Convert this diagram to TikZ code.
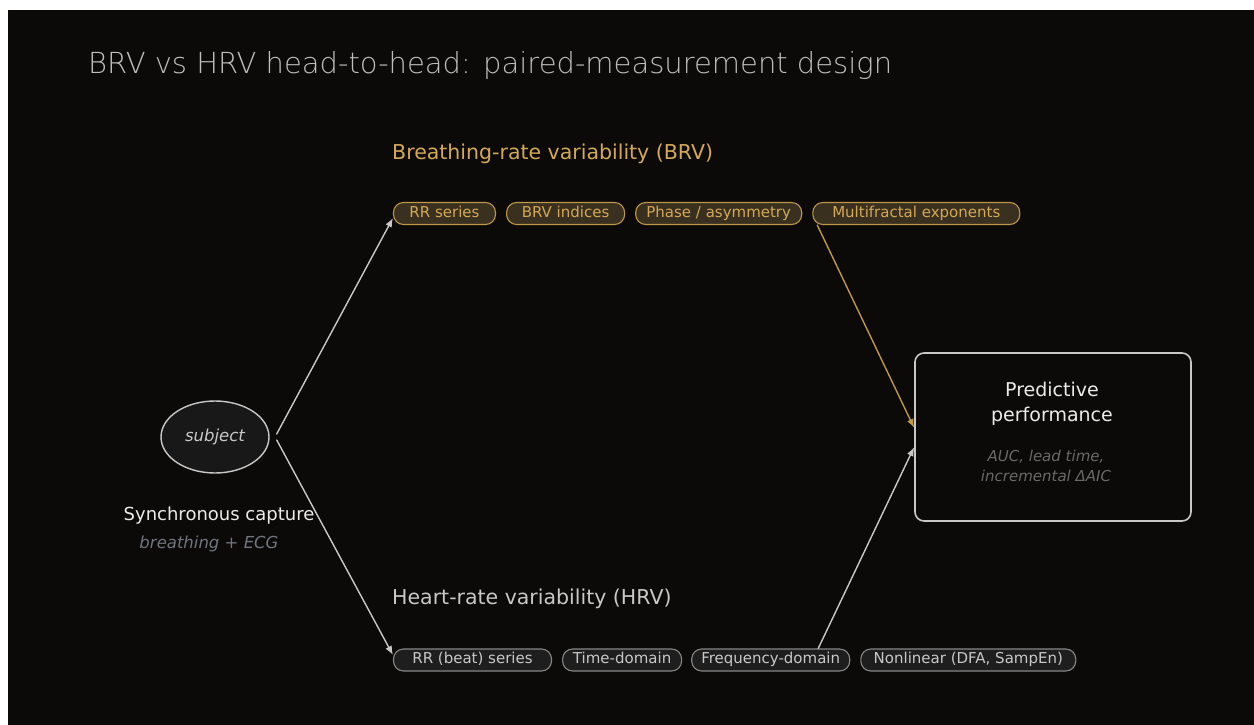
\documentclass[tikz,border=0pt]{standalone}
\usepackage{fontspec}
\setmainfont{DejaVu Sans}
\newfontfamily\titlefont{DejaVuSans-ExtraLight.ttf}
\usepackage{tikz}
\usetikzlibrary{arrows.meta}
\usetikzlibrary{positioning}
\usetikzlibrary{shapes.geometric}
\definecolor{bgdark}{RGB}{11,10,9}
\definecolor{titlegray}{RGB}{190,190,190}
\definecolor{goldtext}{RGB}{212,168,84}
\definecolor{goldline}{RGB}{190,150,70}
\definecolor{goldfill}{RGB}{58,48,32}
\definecolor{lightgray}{RGB}{200,200,200}
\definecolor{pillgray}{RGB}{30,30,30}
\definecolor{pilledge}{RGB}{135,135,135}
\definecolor{notegray}{RGB}{105,105,105}
\definecolor{bluegray}{RGB}{112,116,126}

\begin{document}
\begin{tikzpicture}[line cap=round,line join=round, x=1pt,y=-1pt,
  pill/.style={draw, line width=1.1pt, rounded corners=10pt, minimum height=22pt,
    inner ysep=0pt, inner xsep=0pt, text height=11pt, text depth=3.5pt,
    font=\fontsize{15}{18}\selectfont},
  brvpill/.style={pill, fill=goldfill, draw=goldline, text=goldtext},
  hrvpill/.style={pill, fill=pillgray, draw=pilledge, text=lightgray},
  heading/.style={anchor=west, inner sep=0pt, font=\fontsize{20.5}{24}\selectfont},
  link/.style={line width=1.4pt, -{Latex[length=9pt, width=7pt]}}]
\fill [white] (0,0) rectangle (1254,725);
\fill [bgdark] (8,10) rectangle (1254,725);
\node[anchor=west, inner sep=0pt, text=titlegray, font=\titlefont\fontsize{29}{33}\selectfont] (title) at (88,65) {BRV vs HRV head-to-head: paired-measurement design};

\node[heading, text=goldtext] (brvhead) at (392,153.5) {Breathing-rate variability (BRV)};
\node[brvpill, minimum width=102pt] (rrb) at (444.5,213.5) {RR series};
\node[brvpill, minimum width=118pt, right=10pt of rrb] (brvidx) {BRV indices};
\node[brvpill, minimum width=166pt, right=10pt of brvidx] (phase) {Phase / asymmetry};
\node[brvpill, minimum width=207pt, right=10pt of phase] (mfrac) {Multifractal exponents};

\node[heading, text=lightgray] (hrvhead) at (392,598.5) {Heart-rate variability (HRV)};
\node[hrvpill, minimum width=158pt] (rrh) at (472.5,660) {RR (beat) series};
\node[hrvpill, minimum width=119pt, right=10pt of rrh] (tdom) {Time-domain};
\node[hrvpill, minimum width=158pt, right=9pt of tdom] (fdom) {Frequency-domain};
\node[hrvpill, minimum width=215pt, right=10pt of fdom] (nlin) {Nonlinear (DFA, SampEn)};

\node[ellipse, draw=lightgray, fill=pillgray!80!black, line width=1.4pt, minimum width=108pt, minimum height=72pt,
  text=lightgray, font=\itshape\fontsize{16.5}{20}\selectfont] (subj) at (215,437) {subject};
\node[text=white!92!black, font=\fontsize{18}{22}\selectfont] (sync) at (219,516) {Synchronous capture};
\node[text=bluegray, font=\itshape\fontsize{16.5}{20}\selectfont] (ecg) at (209,544) {breathing + ECG};

\node[draw=lightgray, fill=bgdark, line width=1.6pt, rounded corners=9pt, minimum width=276pt, minimum height=168pt] (perf) at (1053,437) {};
\node[align=center, text=white!92!black, font=\fontsize{19}{25}\selectfont] (perftitle) at (1052,404) {Predictive\\performance};
\node[align=center, text=notegray, font=\itshape\fontsize{15}{20}\selectfont] (perfnote) at (1046,466) {AUC, lead time,\\incremental ΔAIC};

\draw [link, lightgray] ([xshift=7pt,yshift=3pt]subj.east) -- ([yshift=-4.5pt]rrb.west);
\draw [link, lightgray] ([xshift=7pt,yshift=-3pt]subj.east) -- ([yshift=5pt]rrh.west);
\draw [link, goldline] ([xshift=5pt]mfrac.south west) -- ([yshift=9pt]perf.west);
\draw [link, lightgray] ([xshift=47.5pt]fdom.north) -- ([yshift=-10pt]perf.west);
\end{tikzpicture}
\end{document}
